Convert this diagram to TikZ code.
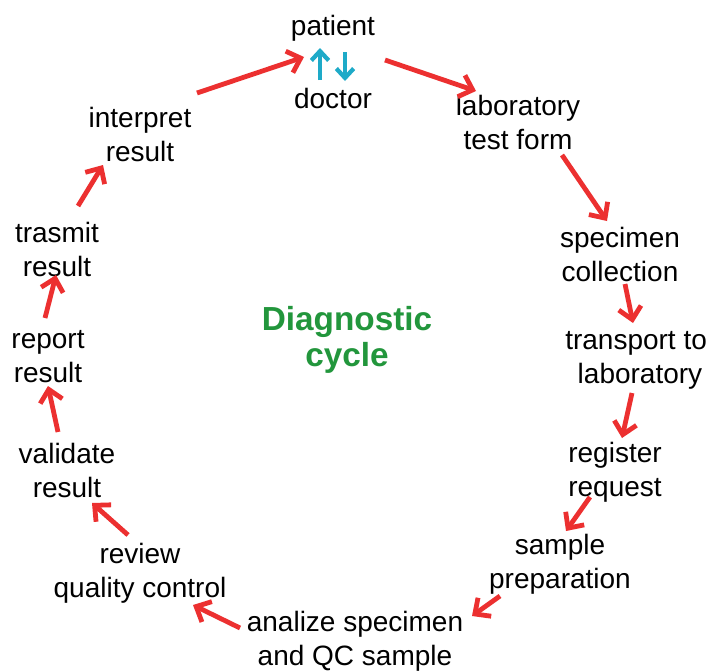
\documentclass[tikz,border=0pt]{standalone}
\usepackage{fontspec}
\setmainfont{Liberation Sans}
\usetikzlibrary{arrows.meta}
\definecolor{arrred}{RGB}{236,48,48}
\definecolor{arrcyan}{RGB}{30,170,200}
\definecolor{cyclegreen}{RGB}{34,150,60}
\tikzset{
  lbl/.style={align=center,inner sep=0pt,font=\fontsize{21}{25.5}\selectfont},
  arr/.style={draw=arrred,line width=3.6pt,-{Straight Barb[length=9pt,width=17pt,line width=3.6pt]}},
  carr/.style={draw=arrcyan,line width=3.2pt,-{Straight Barb[length=7pt,width=13pt,line width=3.2pt]}}
}
\begin{document}
\begin{tikzpicture}[x=0.75pt,y=-0.75pt]
\useasboundingbox[fill=white] (0,0) rectangle (710,671);
\node[lbl] (patient) at (333,28) {patient};
\node[lbl] (doctor) at (333,98) {doctor};
\node[lbl] (lab) at (518,122) {laboratory\\test form};
\node[lbl] (spec) at (620,254) {specimen\\collection};
\node[lbl,anchor=west] (trans) at (565,360) {transport to\\\hspace*{0pt}\phantom{t}laboratory};
\node[lbl] (reg) at (615,472) {register\\request};
\node[lbl] (prep) at (560,564) {sample\\preparation};
\node[lbl] (anal) at (355,641) {analize specimen\\and QC sample};
\node[lbl] (rev) at (140,573) {review\\quality control};
\node[lbl] (valid) at (67,470) {validate\\result};
\node[lbl] (rep) at (48,357) {report\\result};
\node[lbl] (tras) at (57,249) {trasmit\\result};
\node[lbl] (interp) at (140,134) {interpret\\result};
\node[align=center,inner sep=0pt,font=\fontsize{25}{27}\selectfont\bfseries,text=cyclegreen] (cycle) at (347,340) {Diagnostic\\cycle};
% cyan arrows
\coordinate (c1s) at (320,80); \coordinate (c1e) at (320,48);
\coordinate (c2s) at (345,52); \coordinate (c2e) at (345,81);
\draw[carr] (c1s) -- (c1e);
\draw[carr] (c2s) -- (c2e);
% red arrows
\coordinate (a1s) at (197,93);  \coordinate (a1e) at (304,57);
\coordinate (a2s) at (385,60);  \coordinate (a2e) at (476,91);
\coordinate (a3s) at (562,155); \coordinate (a3e) at (607,221);
\coordinate (a4s) at (625,284); \coordinate (a4e) at (633,323);
\coordinate (a5s) at (632,393); \coordinate (a5e) at (622,438);
\coordinate (a6s) at (590,497); \coordinate (a6e) at (566,531);
\coordinate (a7s) at (500,596); \coordinate (a7e) at (472,616);
\coordinate (a8s) at (240,628); \coordinate (a8e) at (193,605);
\coordinate (a9s) at (128,535); \coordinate (a9e) at (92,503);
\coordinate (a10s) at (58,432); \coordinate (a10e) at (48,386);
\coordinate (a11s) at (45,318); \coordinate (a11e) at (56,275);
\coordinate (a12s) at (78,206); \coordinate (a12e) at (103,165);
\draw[arr] (a1s) -- (a1e);
\draw[arr] (a2s) -- (a2e);
\draw[arr] (a3s) -- (a3e);
\draw[arr] (a4s) -- (a4e);
\draw[arr] (a5s) -- (a5e);
\draw[arr] (a6s) -- (a6e);
\draw[arr] (a7s) -- (a7e);
\draw[arr] (a8s) -- (a8e);
\draw[arr] (a9s) -- (a9e);
\draw[arr] (a10s) -- (a10e);
\draw[arr] (a11s) -- (a11e);
\draw[arr] (a12s) -- (a12e);
\end{tikzpicture}
\end{document}
